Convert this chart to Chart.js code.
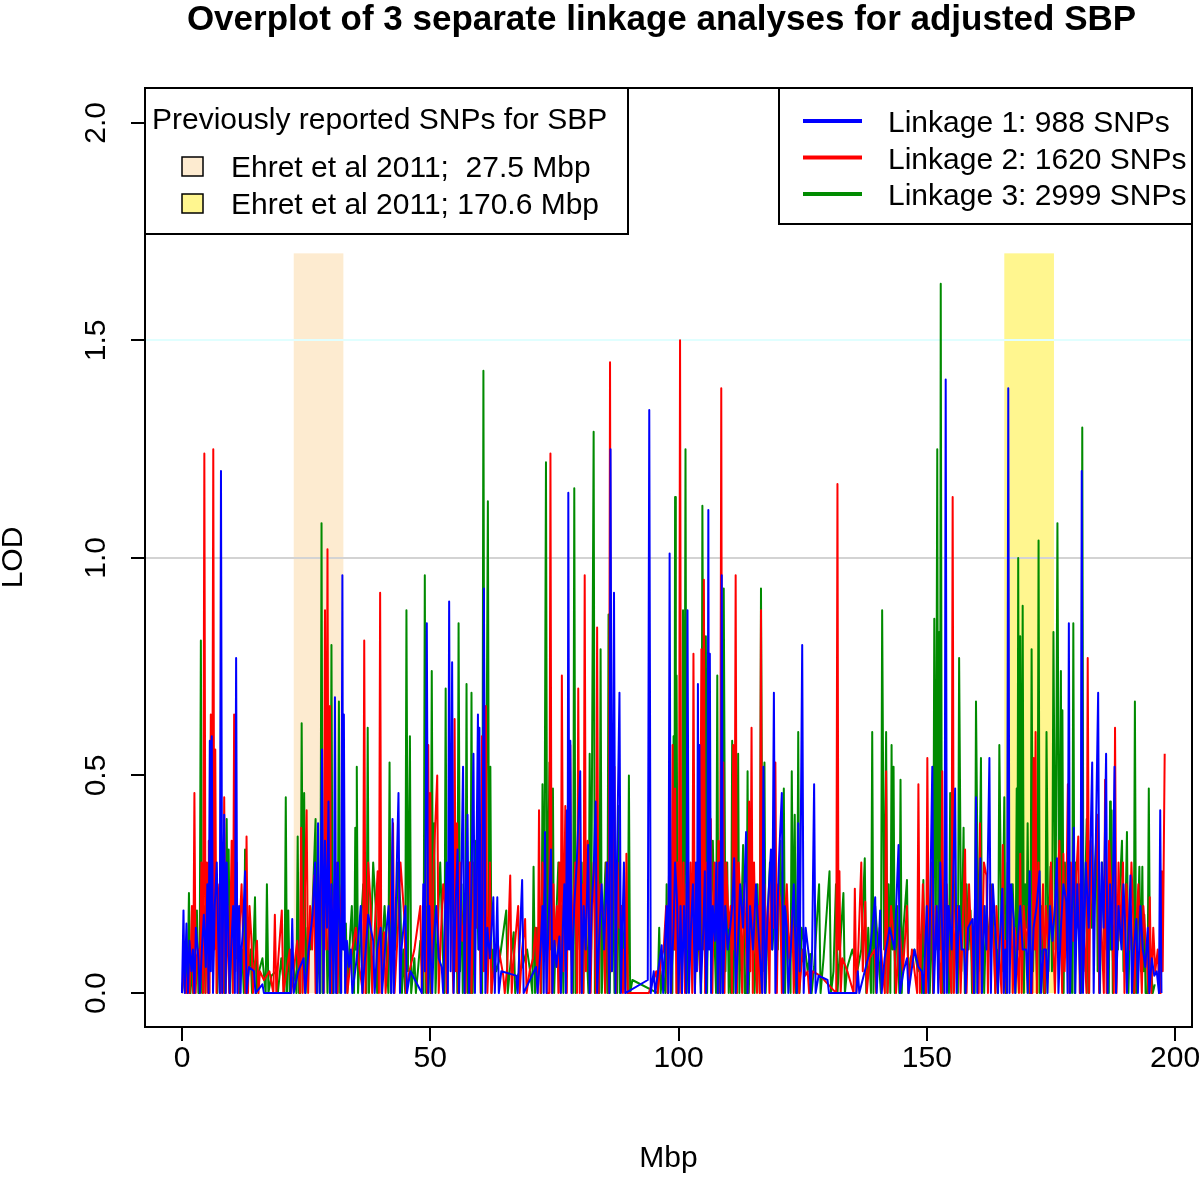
<!DOCTYPE html>
<html>
<head>
<meta charset="utf-8">
<title>Overplot of 3 separate linkage analyses</title>
<script src="https://cdn.jsdelivr.net/npm/chart.js@4.4.0/dist/chart.umd.min.js"></script>
<style>
  html, body { margin: 0; padding: 0; background: #ffffff; }
  #wrap { width: 1200px; height: 1177px; }
</style>
</head>
<body>
<div id="wrap"><canvas id="lodChart" width="1200" height="1177"></canvas></div>
<script>
// ---- data ----
const chartTitle = 'Overplot of 3 separate linkage analyses for adjusted SBP';
const xTicks = [0, 50, 100, 150, 200];
const yTicks = [0, 0.5, 1, 1.5, 2];
const seriesLabels = ['Linkage 1: 988 SNPs', 'Linkage 2: 1620 SNPs', 'Linkage 3: 2999 SNPs'];
const seriesColors = ['#0000FF', '#FF0000', '#008B00'];

// previously reported SNP regions (Mbp)
const bandTitle = 'Previously reported SNPs for SBP';
const bandLabels = ['Ehret et al 2011;  27.5 Mbp', 'Ehret et al 2011; 170.6 Mbp'];
const bandStart = [22.5, 165.6];
const bandEnd = [32.5, 175.6];
const bandTop = [1.7, 1.7];
const bandColors = ['#FDEBD0', '#FFF68F'];

// reference lines
const refLines = [1.0, 1.5];
const refColors = ['#D3D3D3', '#E0FFFF'];

// [Mbp, LOD] - the spikes
const linkage1 = [[0,0],[0.3,0.19],[0.55,0],[0.9,0.16],[1.2,0],[2.2,0.10],[2.5,0],[3.3,0.08],[3.6,0],[5.35,0],[5.6,0.58],[5.8,0.05],[6.0,0.59],[6.25,0],[7.6,0],[7.85,1.20],[8.1,0],[8.5,0.41],[8.8,0],[9.3,0.15],[9.6,0],[10.65,0],[10.9,0.77],[11.15,0],[11.5,0.20],[11.8,0],[12.7,0.28],[13.0,0],[14.5,0.05],[14.8,0],[16.2,0.02],[16.5,0],[21.9,0],[22.2,0.17],[22.5,0],[24.5,0.08],[24.8,0],[27.15,0],[27.4,0.39],[27.7,0],[28.2,0.56],[28.5,0],[29.5,0.44],[29.8,0],[30.55,0],[30.8,0.68],[31.05,0],[32.05,0],[32.3,0.96],[32.45,0.1],[32.6,0.64],[32.85,0],[34.0,0.10],[34.3,0],[36.0,0.20],[36.3,0],[38.5,0.12],[38.8,0],[40.0,0.15],[40.3,0],[42.15,0],[42.4,0.40],[42.65,0],[43.6,0.46],[43.9,0],[45.0,0.20],[45.3,0],[48.3,0],[48.6,0.25],[48.9,0.05],[49.3,0.85],[49.6,0],[50.1,0.08],[50.4,0],[52.3,0.06],[52.6,0],[53.55,0],[53.8,0.90],[54.1,0.05],[54.4,0.76],[54.7,0],[55.5,0.33],[55.8,0],[56.6,0.52],[56.9,0],[57.5,0.41],[57.8,0],[58.7,0.55],[59.0,0],[59.6,0.64],[59.75,0.1],[59.9,0.61],[60.2,0],[60.8,0.93],[61.1,0],[62.7,0.22],[63.0,0],[63.5,0.22],[63.8,0],[67.3,0.04],[67.6,0],[68.5,0.26],[68.8,0],[71.3,0.06],[71.6,0],[72.85,0],[73.1,0.37],[73.4,0],[74.3,0.33],[74.6,0],[76.0,0.13],[76.3,0],[77.3,0],[77.5,0.42],[77.65,0.1],[77.8,1.15],[78.0,0.1],[78.2,0.58],[78.45,0],[80.2,0.51],[80.5,0],[81.8,0.34],[82.1,0],[83.3,0.44],[83.6,0],[86.05,0],[86.3,1.25],[86.6,0.05],[87.0,0.92],[87.3,0],[88.1,0.69],[88.4,0],[89.0,0.30],[89.3,0],[93.8,0.03],[94.1,1.34],[94.4,0],[95.0,0.05],[95.3,0],[96.6,0.11],[96.9,0],[97.95,0],[98.2,1.01],[98.45,0],[99.7,0.21],[100.0,0],[100.4,0.20],[100.7,0],[101.55,0],[101.8,0.88],[102.1,0],[103.3,0],[103.5,0.30],[103.7,0.05],[103.9,0.71],[104.05,0.1],[104.2,0.57],[104.45,0],[105.3,0.28],[105.55,0],[105.8,0.1],[106.0,1.11],[106.15,0.1],[106.3,0.78],[106.55,0],[107.6,0.30],[107.9,0],[108.45,0],[108.7,0.96],[108.95,0],[111.2,0.31],[111.5,0],[113.6,0.37],[113.9,0],[116.85,0],[117.1,0.52],[117.4,0],[118.6,0.33],[118.85,0.1],[119.2,0.69],[119.5,0],[120.8,0.46],[121.1,0],[121.8,0.15],[122.1,0],[123.8,0],[124.1,0.39],[124.4,0.05],[124.9,0.80],[125.2,0],[126.3,0.08],[126.6,0],[127.3,0.48],[127.6,0],[130.0,0.03],[130.3,0],[135.8,0],[136.1,0.05],[136.4,0],[139.6,0.22],[139.9,0],[140.6,0.19],[140.9,0],[144.3,0.34],[144.6,0],[146.0,0.08],[146.3,0],[149.0,0.05],[149.3,0],[150.0,0.20],[150.3,0],[151.1,0.52],[151.4,0],[152.0,0.20],[152.3,0],[153.55,0],[153.8,1.41],[154.05,0],[155.7,0.47],[156.0,0],[157.5,0.10],[157.8,0],[159.2,0.17],[159.5,0],[159.9,0.45],[160.15,0],[160.8,0.31],[161.1,0],[162.6,0.54],[162.9,0],[164.0,0.10],[164.3,0],[165.2,0.24],[165.5,0],[166.15,0],[166.4,1.39],[166.65,0],[167.5,0.17],[167.8,0],[170.0,0.10],[170.3,0],[170.7,0.28],[171.0,0],[172.7,0.28],[173.0,0],[174.0,0.10],[174.3,0],[176.2,0.31],[176.5,0],[178.1,0.21],[178.35,0],[178.6,0.85],[178.85,0],[179.6,0.38],[179.9,0],[180.95,0],[181.2,1.20],[181.45,0],[183.3,0.53],[183.6,0],[184.5,0.69],[184.8,0],[186.1,0.55],[186.4,0],[187.8,0.52],[188.1,0],[190.0,0.14],[190.3,0],[191.0,0.27],[191.3,0],[192.2,0.17],[192.5,0],[194.5,0.15],[194.8,0],[196.75,0],[197.0,0.42],[197.25,0]];

const linkage2 = [[0,0],[0.5,0.08],[0.8,0],[1.2,0.05],[1.5,0],[2.25,0],[2.5,0.46],[2.75,0],[3.3,0.10],[3.6,0],[4.25,0],[4.5,1.24],[4.75,0],[5.0,0.30],[5.25,0],[5.55,0],[5.8,0.64],[6.05,0.1],[6.3,1.25],[6.5,0.1],[6.7,0.56],[6.95,0],[7.5,0.20],[7.8,0],[8.25,0],[8.5,0.45],[8.8,0],[9.2,0.20],[9.5,0],[10.25,0],[10.5,0.64],[10.75,0.05],[11.0,0.30],[11.3,0],[12.75,0],[13.0,0.36],[13.3,0],[14.0,0.12],[14.3,0],[15.1,0.12],[15.4,0],[18.4,0],[18.7,0.18],[19.0,0],[20.1,0.19],[20.4,0],[21.7,0.10],[22.0,0],[23.75,0],[24.0,0.38],[24.3,0],[25.1,0.42],[25.4,0],[26.6,0.27],[26.9,0],[28.55,0],[28.8,0.88],[29.05,0.1],[29.3,1.02],[29.55,0.1],[29.8,0.66],[30.05,0],[31.0,0.30],[31.3,0],[33.0,0.10],[33.3,0],[36.45,0],[36.7,0.81],[36.95,0],[38.0,0.20],[38.3,0],[39.4,0.28],[39.65,0],[39.9,0.92],[40.15,0],[40.7,0.14],[41.0,0],[42.5,0.39],[42.8,0],[44.8,0.17],[45.1,0],[48.0,0.20],[48.3,0],[49.35,0],[49.6,0.57],[49.8,0.1],[50.0,0.46],[50.25,0],[51.4,0.50],[51.7,0],[53.0,0.20],[53.3,0],[54.65,0],[54.9,0.63],[55.15,0.05],[55.4,0.39],[55.65,0],[56.8,0.16],[57.1,0],[58.0,0.30],[58.3,0],[60.15,0],[60.4,0.59],[60.8,0.05],[61.2,0.66],[61.5,0],[62.0,0.30],[62.3,0],[64.7,0.04],[65.0,0],[66.1,0.27],[66.4,0],[67.7,0.20],[68.0,0],[69.1,0.17],[69.4,0],[71.65,0],[71.9,0.42],[72.2,0],[73.2,0.20],[73.5,0],[73.95,0],[74.2,1.24],[74.45,0],[75.5,0.20],[75.8,0],[76.25,0],[76.5,0.73],[76.8,0.05],[77.2,0.43],[77.5,0],[78.2,0.57],[78.5,0],[79.55,0],[79.8,0.70],[80.1,0],[80.85,0],[81.1,0.96],[81.35,0.05],[82.0,0.30],[82.3,0],[83.35,0],[83.6,0.84],[83.9,0],[84.9,0.16],[85.2,0],[85.95,0],[86.2,1.45],[86.45,0.05],[87.1,0.52],[87.4,0],[88.5,0.20],[88.8,0],[89.25,0],[89.5,0.32],[89.8,0],[94.0,0],[95.5,0.05],[95.8,0],[97.5,0.20],[97.8,0],[98.55,0],[98.8,0.57],[99.05,0.1],[99.3,0.47],[99.55,0],[100.05,0],[100.3,1.50],[100.55,0],[101.0,0.30],[101.3,0],[102.75,0],[103.0,0.78],[103.3,0],[104.0,0.30],[104.3,0.05],[104.6,0.79],[104.85,0.1],[105.1,0.95],[105.35,0],[106.5,0.40],[106.8,0],[108.35,0],[108.6,1.39],[108.8,0.1],[109.0,0.53],[109.25,0],[110.5,0.20],[110.75,0],[111.0,0.57],[111.25,0.1],[111.5,0.96],[111.75,0],[112.5,0.20],[112.8,0],[113.95,0],[114.2,0.44],[114.45,0.05],[114.7,0.61],[114.95,0],[115.5,0.10],[115.8,0],[116.35,0],[116.6,0.88],[116.85,0],[118.0,0.20],[118.3,0],[119.5,0.53],[119.8,0],[120.5,0.20],[120.8,0],[122.9,0.19],[123.2,0],[124.0,0.10],[124.3,0],[126.0,0.05],[126.3,0],[131.75,0],[132.0,1.17],[132.2,0.1],[132.4,0.28],[132.65,0],[135.25,0],[135.5,0.24],[135.8,0],[136.8,0.30],[137.1,0.05],[137.6,0.21],[137.9,0],[139.5,0.10],[139.8,0],[141.55,0],[141.8,0.51],[142.1,0],[143.5,0.10],[143.8,0],[146.0,0.20],[146.3,0],[148.05,0],[148.3,0.48],[148.6,0],[149.85,0],[150.1,0.54],[150.4,0.05],[151.0,0.30],[151.3,0],[152.85,0],[153.1,0.51],[153.4,0],[154.95,0],[155.2,1.14],[155.45,0],[156.5,0.15],[156.8,0],[157.7,0.33],[158.0,0],[159.0,0.10],[159.3,0],[160.45,0],[160.7,0.39],[161.0,0],[162.0,0.27],[162.3,0],[163.5,0.10],[163.8,0],[165.05,0],[165.3,0.34],[165.55,0.05],[165.8,0.12],[166.05,0],[167.0,0.21],[167.3,0],[168.55,0],[168.8,0.32],[169.1,0],[170.5,0.20],[170.8,0],[171.25,0],[171.5,0.54],[171.7,0.1],[171.9,0.60],[172.15,0],[173.4,0.25],[173.7,0],[175.5,0.10],[175.8,0],[177.25,0],[177.5,0.32],[177.75,0.05],[178.4,0.48],[178.7,0],[180.5,0.36],[180.8,0],[182.15,0],[182.4,0.77],[182.7,0],[184.4,0.41],[184.7,0],[185.65,0],[185.9,0.49],[186.2,0],[187.65,0],[187.9,0.61],[188.2,0],[189.5,0.30],[189.8,0],[191.5,0.20],[191.8,0],[193.0,0.10],[193.3,0],[194.65,0],[194.9,0.22],[195.2,0],[196.5,0.10],[196.8,0],[197.1,0],[197.3,0.28],[197.5,0.05],[197.9,0.55]];

const linkage3 = [[0,0],[0.8,0.10],[1.1,0],[1.4,0.23],[1.7,0],[2.0,0.05],[2.3,0],[3.0,0.19],[3.3,0],[3.55,0],[3.8,0.81],[4.05,0],[4.4,0.20],[4.7,0],[6.8,0.30],[7.1,0],[8.3,0.20],[8.6,0],[9.0,0.40],[9.2,0.1],[9.4,0.33],[9.7,0],[11.3,0.10],[11.6,0],[12.45,0],[12.7,0.33],[13.0,0],[13.8,0.10],[14.1,0],[14.7,0.22],[15.0,0],[16.85,0],[17.1,0.25],[17.4,0],[19.0,0.05],[19.3,0],[20.65,0],[20.9,0.45],[21.15,0],[21.4,0.19],[21.7,0],[23.05,0],[23.3,0.36],[23.55,0],[23.85,0],[24.1,0.62],[24.35,0.1],[24.6,0.46],[24.9,0],[26.9,0.40],[27.2,0],[27.85,0],[28.1,1.08],[28.35,0],[29.0,0.20],[29.3,0],[29.85,0],[30.1,0.80],[30.35,0],[30.8,0.20],[31.1,0],[31.35,0],[31.6,0.67],[31.85,0],[33.0,0.16],[33.3,0],[34.65,0],[34.9,0.38],[35.05,0.1],[35.2,0.52],[35.45,0],[37.15,0],[37.4,0.61],[37.65,0],[39.0,0.20],[39.3,0],[41.55,0],[41.8,0.53],[42.05,0],[44.0,0.20],[44.3,0],[44.95,0],[45.2,0.88],[45.5,0.05],[45.9,0.59],[46.15,0],[46.8,0.08],[47.1,0],[48.65,0],[48.9,0.96],[49.15,0],[50.05,0],[50.3,0.74],[50.55,0.1],[50.8,0.39],[51.05,0],[52.85,0],[53.1,0.70],[53.35,0],[55.45,0],[55.7,0.85],[56.0,0.05],[56.3,0.25],[56.55,0],[57.05,0],[57.3,0.71],[57.55,0],[58.05,0],[58.3,0.69],[58.55,0],[60.45,0],[60.7,1.43],[60.95,0.1],[61.15,0.1],[61.6,1.13],[61.85,0.1],[62.1,0.52],[62.35,0],[65.3,0.19],[65.6,0],[66.8,0.14],[67.1,0],[70.55,0],[70.8,0.29],[71.1,0],[72.35,0],[72.6,0.48],[72.95,0.1],[73.3,1.22],[73.55,0.1],[74.0,0.53],[74.3,0.1],[74.7,0.47],[74.95,0],[76.5,0.20],[76.8,0],[78.75,0],[79.0,1.16],[79.25,0],[80.5,0.30],[80.8,0],[81.85,0],[82.1,0.55],[82.4,0.1],[82.9,1.29],[83.15,0],[84.05,0],[84.3,0.79],[84.55,0],[85.65,0],[85.9,0.87],[86.15,0],[86.8,0.30],[87.1,0],[87.65,0],[87.9,0.43],[88.2,0],[89.75,0],[90.0,0.50],[90.25,0],[95.8,0],[96.1,0.15],[96.4,0],[97.35,0],[97.6,0.25],[97.85,0],[98.75,0],[99.0,0.59],[99.15,0.1],[99.3,1.14],[99.45,0.1],[99.6,0.73],[99.85,0],[100.65,0],[100.9,0.88],[101.15,0.1],[101.4,1.25],[101.65,0],[103.0,0.30],[103.3,0],[104.55,0],[104.8,1.12],[105.15,0.1],[105.5,0.82],[105.75,0],[107.55,0],[107.8,0.73],[108.05,0],[108.85,0],[109.1,0.93],[109.45,0.05],[109.8,0.30],[110.1,0],[110.55,0],[110.8,0.58],[111.05,0],[111.75,0],[112.0,0.55],[112.25,0],[113.0,0.34],[113.3,0],[113.65,0],[113.9,0.51],[114.15,0],[115.0,0.20],[115.3,0],[116.35,0],[116.6,0.93],[116.95,0.05],[117.3,0.53],[117.55,0],[120.5,0.35],[120.8,0.1],[121.2,0.47],[121.45,0],[122.55,0],[122.8,0.51],[123.1,0.1],[123.4,0.41],[123.65,0],[123.85,0],[124.1,0.60],[124.35,0],[126.5,0.09],[126.8,0],[128.3,0.25],[128.6,0],[130.4,0.28],[130.7,0],[131.7,0.25],[132.0,0],[133.2,0.23],[133.5,0],[137.5,0.31],[137.8,0],[138.75,0],[139.0,0.60],[139.25,0],[140.75,0],[141.0,0.88],[141.4,0.1],[141.8,0.60],[142.05,0],[142.65,0],[142.9,0.57],[143.1,0.1],[143.3,0.52],[143.55,0],[144.45,0],[144.7,0.49],[144.95,0],[146.0,0.26],[146.3,0],[149.0,0],[149.3,0.26],[149.6,0],[150.3,0.07],[150.6,0],[151.25,0],[151.5,0.86],[151.8,0.1],[152.1,1.25],[152.3,0.1],[152.5,0.83],[152.65,0.1],[152.8,1.63],[153.05,0],[154.45,0],[154.7,0.46],[154.95,0],[156.25,0],[156.5,0.77],[156.95,0.05],[157.4,0.38],[157.65,0],[158.8,0.19],[159.1,0],[159.65,0],[159.9,0.67],[160.4,0.05],[160.9,0.54],[161.1,0.05],[161.3,0.16],[161.55,0],[163.5,0.14],[163.8,0],[164.35,0],[164.6,0.57],[165.1,0.05],[165.6,0.45],[165.85,0],[167.85,0],[168.1,0.47],[168.25,0.1],[168.4,1.00],[168.6,0.1],[168.8,0.82],[169.05,0.1],[169.3,0.89],[169.55,0],[170.3,0.39],[170.6,0],[170.85,0],[171.1,0.79],[171.4,0.05],[172.25,0],[172.5,1.04],[172.75,0],[173.3,0.08],[173.55,0],[173.85,0],[174.1,0.60],[174.5,0.05],[174.9,0.29],[175.2,0.05],[175.5,0.83],[175.9,0.1],[176.3,1.08],[176.65,0.1],[177.0,0.74],[177.15,0.1],[177.3,0.65],[177.55,0],[179.25,0],[179.5,0.85],[179.75,0],[181.05,0],[181.3,1.30],[181.55,0.05],[182.2,0.40],[182.5,0],[184.2,0.38],[184.4,0.05],[184.6,0.11],[184.85,0],[186.65,0],[186.9,0.44],[187.05,0.1],[187.2,0.42],[187.45,0],[189.3,0.35],[189.6,0.05],[190.3,0.37],[190.6,0],[191.65,0],[191.9,0.67],[192.15,0],[192.8,0.29],[193.1,0.05],[193.4,0.29],[193.6,0.05],[193.8,0.18],[194.05,0],[194.45,0],[194.7,0.47],[194.95,0.05],[195.2,0.05],[195.5,0]];

// [Mbp, LOD] - the dense low-level readings between the spikes
const linkage1Low = [[0.7,0.08],[1.5,0.12],[1.9,0.05],[2.8,0.15],[4.0,0.1],[4.4,0.18],[4.8,0.06],[5.1,0.25],[6.6,0.2],[7.0,0.3],[7.3,0.12],[8.3,0.22],[9.0,0.3],[9.9,0.1],[10.3,0.2],[12.0,0.1],[12.3,0.15],[13.5,0.06],[23.4,0.05],[25.5,0.1],[26.3,0.18],[26.8,0.3],[27.9,0.2],[28.8,0.35],[29.2,0.15],[30.1,0.25],[31.4,0.3],[31.7,0.15],[33.2,0.12],[33.6,0.06],[35.2,0.08],[37.0,0.1],[37.5,0.18],[39.3,0.1],[41.0,0.12],[41.6,0.2],[44.2,0.1],[46.0,0.05],[49.8,0.2],[50.7,0.12],[51.2,0.2],[51.7,0.08],[52.9,0.15],[53.3,0.3],[55.1,0.2],[56.1,0.15],[57.2,0.25],[58.2,0.2],[59.3,0.3],[60.5,0.2],[61.5,0.15],[62.0,0.08],[64.3,0.05],[72.2,0.1],[72.6,0.2],[73.8,0.15],[75.0,0.12],[75.4,0.06],[76.7,0.15],[77.0,0.25],[79.0,0.2],[79.5,0.3],[80.9,0.2],[81.3,0.1],[82.5,0.2],[82.9,0.28],[84.0,0.12],[84.5,0.25],[85.0,0.1],[85.6,0.3],[87.6,0.3],[88.7,0.15],[97.2,0.1],[97.6,0.2],[99.0,0.15],[99.3,0.3],[101.1,0.2],[102.5,0.15],[102.9,0.25],[105.0,0.15],[106.9,0.2],[107.3,0.12],[108.2,0.3],[109.4,0.2],[109.9,0.1],[110.4,0.15],[110.8,0.2],[112.0,0.12],[112.4,0.25],[113.0,0.15],[114.4,0.2],[115.0,0.1],[115.6,0.25],[116.2,0.12],[118.0,0.2],[120.2,0.3],[121.4,0.2],[122.6,0.1],[123.2,0.25],[125.6,0.15],[126.9,0.1],[128.2,0.04],[137.5,0.05],[138.6,0.1],[141.5,0.08],[142.5,0.15],[143.5,0.1],[145.3,0.05],[147.5,0.1],[148.3,0.06],[150.6,0.15],[152.7,0.3],[153.2,0.1],[154.4,0.2],[155.0,0.1],[156.5,0.2],[157.0,0.1],[158.3,0.15],[161.6,0.2],[162.0,0.1],[163.3,0.25],[164.7,0.12],[165.8,0.1],[167.0,0.25],[168.3,0.12],[168.8,0.2],[169.3,0.1],[171.5,0.15],[172.1,0.2],[173.5,0.1],[174.8,0.2],[175.3,0.12],[175.8,0.2],[177.0,0.15],[177.5,0.25],[180.3,0.25],[182.0,0.3],[182.6,0.15],[183.9,0.25],[185.2,0.3],[185.6,0.15],[186.9,0.25],[187.3,0.1],[188.6,0.2],[189.2,0.1],[189.6,0.25],[191.7,0.1],[193.0,0.2],[193.5,0.1],[194.0,0.06],[195.3,0.08],[195.8,0.04],[196.3,0.05]];

const linkage2Low = [[0.3,0.04],[1.8,0.1],[2.0,0.2],[3.0,0.08],[3.9,0.3],[4.1,0.12],[5.4,0.35],[7.2,0.25],[7.9,0.3],[8.1,0.15],[9.8,0.2],[10.0,0.35],[11.6,0.15],[12.0,0.25],[12.4,0.08],[13.6,0.2],[14.6,0.06],[15.7,0.05],[16.5,0.03],[17.6,0.05],[19.4,0.08],[22.6,0.06],[23.2,0.12],[24.6,0.15],[25.8,0.2],[26.2,0.1],[27.4,0.15],[28.1,0.3],[30.4,0.2],[31.7,0.15],[32.2,0.25],[32.7,0.1],[34.0,0.08],[35.0,0.15],[35.7,0.06],[37.5,0.3],[38.7,0.12],[41.5,0.1],[42.0,0.2],[43.5,0.15],[44.0,0.3],[45.8,0.05],[46.8,0.1],[48.8,0.15],[50.7,0.3],[52.2,0.15],[52.6,0.25],[53.8,0.3],[54.3,0.15],[56.0,0.3],[56.4,0.12],[57.5,0.2],[58.8,0.3],[59.3,0.15],[59.7,0.35],[61.8,0.1],[63.0,0.08],[63.5,0.12],[65.5,0.06],[66.8,0.08],[68.5,0.1],[70.0,0.05],[70.7,0.08],[71.2,0.15],[72.6,0.3],[74.8,0.25],[75.1,0.1],[76.0,0.3],[77.8,0.35],[78.8,0.2],[79.2,0.3],[80.5,0.25],[81.7,0.35],[82.6,0.2],[82.9,0.3],[84.3,0.25],[85.5,0.3],[86.8,0.3],[87.7,0.3],[88.1,0.15],[89.0,0.1],[96.5,0.08],[97.0,0.1],[98.1,0.3],[99.8,0.3],[101.6,0.25],[102.0,0.1],[102.4,0.3],[103.6,0.25],[105.7,0.3],[106.1,0.15],[107.2,0.3],[107.7,0.15],[108.0,0.35],[109.6,0.3],[110.1,0.15],[112.1,0.3],[113.2,0.25],[113.6,0.1],[115.2,0.3],[116.0,0.2],[117.3,0.25],[117.7,0.1],[118.6,0.3],[119.1,0.15],[120.1,0.25],[121.3,0.15],[121.8,0.25],[122.3,0.08],[123.6,0.15],[125.0,0.1],[125.5,0.04],[127.0,0.05],[128.5,0.04],[133.0,0.08],[134.0,0.05],[136.2,0.1],[138.5,0.08],[140.5,0.15],[141.1,0.05],[142.8,0.2],[144.5,0.15],[145.2,0.05],[147.0,0.1],[149.2,0.25],[151.8,0.2],[152.3,0.1],[154.0,0.25],[154.4,0.1],[156.0,0.2],[158.5,0.25],[159.7,0.2],[161.5,0.3],[162.8,0.25],[164.0,0.2],[164.5,0.1],[166.5,0.25],[167.7,0.15],[168.2,0.08],[169.5,0.2],[170.0,0.1],[172.5,0.3],[173.0,0.1],[174.0,0.2],[174.5,0.1],[175.0,0.3],[176.2,0.2],[176.7,0.35],[178.1,0.2],[179.0,0.3],[179.5,0.12],[180.0,0.25],[181.2,0.3],[181.6,0.15],[183.0,0.35],[183.5,0.15],[184.0,0.3],[185.0,0.2],[186.7,0.35],[187.2,0.2],[188.6,0.3],[189.0,0.12],[190.2,0.25],[190.8,0.1],[191.2,0.3],[192.2,0.15],[192.6,0.25],[193.6,0.2],[194.2,0.1],[195.6,0.15],[196.0,0.05]];

const linkage3Low = [[0.4,0.05],[2.6,0.1],[5.0,0.15],[5.4,0.1],[5.8,0.2],[6.2,0.12],[7.5,0.15],[7.8,0.08],[10.0,0.15],[10.5,0.2],[10.9,0.08],[12.1,0.1],[13.4,0.05],[15.5,0.05],[16.2,0.08],[18.0,0.04],[20.0,0.08],[22.0,0.1],[22.6,0.05],[25.3,0.15],[25.8,0.1],[26.3,0.2],[27.5,0.12],[28.6,0.2],[29.6,0.15],[31.2,0.15],[32.3,0.2],[32.7,0.12],[33.7,0.1],[34.2,0.2],[36.0,0.15],[36.5,0.25],[38.0,0.1],[38.5,0.3],[39.6,0.15],[40.3,0.1],[40.8,0.2],[42.5,0.15],[43.0,0.1],[43.5,0.3],[44.6,0.1],[47.5,0.05],[48.0,0.12],[49.5,0.2],[51.5,0.15],[52.0,0.3],[52.5,0.1],[53.7,0.2],[54.2,0.3],[54.7,0.15],[55.2,0.25],[56.8,0.2],[57.8,0.3],[58.8,0.2],[59.2,0.35],[59.7,0.1],[60.1,0.25],[62.7,0.1],[63.3,0.05],[64.0,0.08],[66.0,0.05],[67.6,0.04],[68.5,0.06],[69.5,0.1],[70.1,0.05],[71.5,0.15],[72.0,0.1],[75.3,0.15],[75.8,0.3],[76.2,0.1],[77.0,0.2],[77.6,0.35],[78.2,0.15],[79.7,0.2],[80.1,0.1],[81.2,0.25],[81.5,0.1],[83.5,0.3],[85.0,0.2],[85.3,0.3],[86.4,0.2],[87.4,0.15],[88.5,0.2],[89.0,0.1],[89.4,0.15],[90.7,0.03],[96.8,0.05],[98.2,0.15],[100.2,0.3],[102.0,0.2],[102.4,0.1],[103.6,0.25],[104.1,0.1],[106.0,0.3],[106.5,0.15],[106.9,0.35],[107.3,0.1],[108.4,0.2],[110.3,0.15],[111.4,0.25],[112.6,0.15],[114.5,0.2],[115.6,0.1],[115.9,0.25],[117.9,0.15],[118.4,0.3],[118.9,0.1],[119.4,0.2],[120.0,0.1],[121.8,0.2],[122.2,0.1],[124.8,0.15],[125.5,0.1],[126.0,0.05],[127.3,0.06],[129.2,0.08],[131.2,0.05],[132.5,0.1],[134.0,0.06],[135.0,0.1],[136.0,0.05],[136.8,0.1],[138.2,0.15],[139.6,0.2],[140.2,0.1],[142.3,0.25],[144.0,0.2],[145.3,0.15],[146.7,0.08],[147.5,0.1],[148.2,0.05],[148.7,0.12],[151.0,0.2],[153.4,0.25],[153.9,0.15],[154.2,0.2],[155.3,0.3],[155.8,0.15],[156.1,0.2],[158.0,0.25],[158.4,0.1],[159.4,0.15],[160.2,0.3],[162.0,0.2],[162.5,0.1],[162.9,0.25],[164.0,0.1],[165.35,0.2],[166.3,0.3],[166.8,0.15],[167.3,0.25],[169.8,0.25],[170.1,0.15],[171.8,0.3],[172.0,0.1],[173.0,0.2],[177.8,0.3],[178.2,0.15],[178.6,0.3],[179.0,0.1],[180.0,0.3],[180.5,0.15],[180.8,0.25],[182.8,0.3],[183.2,0.15],[183.7,0.25],[185.3,0.3],[185.8,0.1],[186.2,0.25],[188.0,0.2],[188.5,0.1],[188.9,0.25],[189.95,0.15],[191.0,0.2],[191.4,0.1],[192.5,0.15],[195.9,0.02]];

const seriesData = [linkage1, linkage2, linkage3];
const seriesLow = [linkage1Low, linkage2Low, linkage3Low];

// ---- drawing ----
const FONT = '"Liberation Sans", Arial, Helvetica, sans-serif';

// shaded regions and reference lines, drawn under the data
const backdropPlugin = {
    id: 'backdrop',
    beforeDatasetsDraw(chart) {
        const { ctx, chartArea, scales } = chart;
        const x = scales.x, y = scales.y;
        ctx.save();
        bandStart.forEach((s, i) => {
            const x0 = x.getPixelForValue(s);
            const x1 = x.getPixelForValue(bandEnd[i]);
            const y0 = y.getPixelForValue(0);
            const y1 = y.getPixelForValue(bandTop[i]);
            ctx.fillStyle = bandColors[i];
            ctx.fillRect(x0, y1, x1 - x0, y0 - y1);
        });
        refLines.forEach((v, i) => {
            const py = Math.round(y.getPixelForValue(v));
            ctx.strokeStyle = refColors[i];
            ctx.lineWidth = 2;
            ctx.beginPath();
            ctx.moveTo(chartArea.left, py);
            ctx.lineTo(chartArea.right, py);
            ctx.stroke();
        });
        ctx.restore();
    }
};

// box, title and the two legends
const overlayPlugin = {
    id: 'overlay',
    afterDraw(chart) {
        const { ctx, chartArea } = chart;
        ctx.save();

        // box round the plot
        ctx.strokeStyle = '#000';
        ctx.lineWidth = 2;
        ctx.strokeRect(chartArea.left, chartArea.top, chartArea.right - chartArea.left, chartArea.bottom - chartArea.top);

        // title
        ctx.fillStyle = '#000';
        ctx.font = 'bold 35px ' + FONT;
        ctx.textAlign = 'center';
        ctx.textBaseline = 'middle';
        ctx.fillText(chartTitle, (chartArea.left + chartArea.right) / 2 - 7, 20);

        // left legend: reported regions
        const lx = chartArea.left, ly = chartArea.top;
        ctx.fillStyle = '#fff';
        ctx.fillRect(lx, ly, 483, 146);
        ctx.strokeRect(lx, ly, 483, 146);
        ctx.fillStyle = '#000';
        ctx.font = '30px ' + FONT;
        ctx.textAlign = 'left';
        ctx.fillText(bandTitle, lx + 7, ly + 33);
        bandLabels.forEach((label, i) => {
            const cy = ly + 79 + i * 37;
            ctx.fillStyle = bandColors[i];
            ctx.fillRect(lx + 37, cy - 10, 21, 19);
            ctx.lineWidth = 1.5;
            ctx.strokeRect(lx + 37, cy - 10, 21, 19);
            ctx.fillStyle = '#000';
            ctx.fillText(label, lx + 86, cy + 2);
        });

        // right legend: linkage series
        const rx = chartArea.right - 413, ry = chartArea.top;
        ctx.lineWidth = 2;
        ctx.fillStyle = '#fff';
        ctx.fillRect(rx, ry, 413, 136);
        ctx.strokeRect(rx, ry, 413, 136);
        seriesLabels.forEach((label, i) => {
            const cy = ry + 33 + i * 36.5;
            ctx.strokeStyle = seriesColors[i];
            ctx.lineWidth = 4;
            ctx.beginPath();
            ctx.moveTo(rx + 24, cy);
            ctx.lineTo(rx + 83, cy);
            ctx.stroke();
            ctx.fillStyle = '#000';
            ctx.fillText(label, rx + 109, cy + 3);
        });
        ctx.restore();
    }
};

function fixTicks(values) {
    return scale => { scale.ticks = values.map(v => ({ value: v })); };
}

const ctx = document.getElementById('lodChart').getContext('2d');
const lodChart = new Chart(ctx, {
    type: 'line',
    data: {
        datasets: seriesData.map((pts, i) => ({
            label: seriesLabels[i],
            data: pts.concat(seriesLow[i])
                .sort((a, b) => a[0] - b[0])
                .map(([x, y]) => ({ x, y })),
            borderColor: seriesColors[i],
            backgroundColor: seriesColors[i],
            borderWidth: 2,
            pointRadius: 0,
            tension: 0,
            borderJoinStyle: 'round',
            fill: false
        }))
    },
    options: {
        responsive: false,
        animation: false,
        devicePixelRatio: 1,
        layout: { padding: { top: 88, right: 8, left: 0, bottom: 0 } },
        plugins: {
            legend: { display: false },
            tooltip: { enabled: false },
            title: { display: false }
        },
        scales: {
            x: {
                type: 'linear',
                min: -7.45,
                max: 203.4,
                afterBuildTicks: fixTicks(xTicks),
                afterFit: s => { s.height = 150; s.paddingLeft = 0; s.paddingRight = 0; },
                grid: { drawOnChartArea: false, drawTicks: true, tickLength: 14, color: '#000', lineWidth: 2 },
                border: { display: false },
                ticks: {
                    color: '#000',
                    font: { family: FONT, size: 30 },
                    padding: 0,
                    maxRotation: 0,
                    autoSkip: false,
                    callback: v => String(v)
                },
                title: {
                    display: true,
                    text: 'Mbp',
                    color: '#000',
                    font: { family: FONT, size: 30 },
                    padding: { top: 0, bottom: 0 }
                }
            },
            y: {
                min: -0.078,
                max: 2.08,
                afterBuildTicks: fixTicks(yTicks),
                afterFit: s => { s.width = 145; s.paddingTop = 0; s.paddingBottom = 0; },
                grid: { drawOnChartArea: false, drawTicks: true, tickLength: 14, color: '#000', lineWidth: 2 },
                border: { display: false },
                ticks: {
                    color: '#000',
                    font: { family: FONT, size: 30 },
                    minRotation: 90,
                    maxRotation: 90,
                    crossAlign: 'center',
                    padding: 13,
                    callback: v => v.toFixed(1)
                },
                title: {
                    display: true,
                    text: 'LOD',
                    color: '#000',
                    font: { family: FONT, size: 30 },
                    padding: { top: -4, bottom: 0 }
                }
            }
        }
    },
    plugins: [backdropPlugin, overlayPlugin]
});
</script>
</body>
</html>
